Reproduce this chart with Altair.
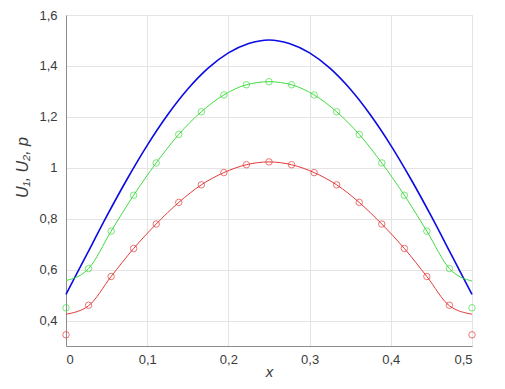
import altair as alt
import pandas as pd

# x positions of the blue (p) curve samples
x_p = [0, 0.025, 0.05, 0.075, 0.1, 0.125, 0.15, 0.175, 0.2, 0.225, 0.25,
       0.275, 0.3, 0.325, 0.35, 0.375, 0.4, 0.425, 0.45, 0.475, 0.5]
p_vals = [0.503, 0.656, 0.809, 0.954, 1.088, 1.207, 1.309, 1.391, 1.451, 1.488, 1.502,
          1.488, 1.451, 1.391, 1.309, 1.207, 1.088, 0.954, 0.809, 0.656, 0.503]

# x positions of the markers / U curves
x_u = [0, 0.0278, 0.0556, 0.0833, 0.1111, 0.1389, 0.1667, 0.1944, 0.2222, 0.25,
       0.2778, 0.3056, 0.3333, 0.3611, 0.3889, 0.4167, 0.4444, 0.4722, 0.5]
u2_line = [0.557, 0.604, 0.751, 0.892, 1.019, 1.131, 1.220, 1.286, 1.326, 1.338,
           1.326, 1.286, 1.220, 1.131, 1.019, 0.892, 0.751, 0.604, 0.555]
u2_pts = [0.450, 0.604, 0.751, 0.892, 1.019, 1.131, 1.220, 1.286, 1.326, 1.338,
          1.326, 1.286, 1.220, 1.131, 1.019, 0.892, 0.751, 0.604, 0.450]
u1_line = [0.425, 0.458, 0.573, 0.683, 0.779, 0.864, 0.933, 0.981, 1.012, 1.023,
           1.012, 0.981, 0.933, 0.864, 0.779, 0.683, 0.573, 0.458, 0.425]
u1_pts = [0.344, 0.460, 0.573, 0.683, 0.779, 0.864, 0.933, 0.981, 1.012, 1.023,
          1.012, 0.981, 0.933, 0.864, 0.779, 0.683, 0.573, 0.460, 0.344]

x_ticks = [0, 0.1, 0.2, 0.3, 0.4, 0.5]
y_ticks = [0.4, 0.6, 0.8, 1.0, 1.2, 1.4, 1.6]

BLUE = "#0b0be4"
GREEN = "#3fdc3f"
RED = "#e43a3a"
LABEL = "#3a3a3a"

df_p = pd.DataFrame({"x": x_p, "y": p_vals})
df_u = pd.DataFrame({"x": x_u, "u2l": u2_line, "u2p": u2_pts, "u1l": u1_line, "u1p": u1_pts})

label_expr = "replace(format(datum.value, '.1~f'), '.', ',')"

xs = alt.Scale(domain=[0, 0.5], nice=False, zero=False)
ys = alt.Scale(domain=[0.3, 1.6], nice=False, zero=False)

x_axis = alt.Axis(values=x_ticks, labelExpr=label_expr, title="x", titleFontStyle="italic",
                  titleFontWeight="normal", titleFontSize=15, titleColor=LABEL,
                  titleX=203, titleY=25, titleBaseline="middle", titleAlign="center",
                  labelFontSize=13, labelColor=LABEL, labelPadding=7, ticks=False,
                  domainColor="#8c8c8c", gridColor="#e4e4e4", labelFont="Liberation Sans",
                  titleFont="Liberation Sans")
y_axis = alt.Axis(values=y_ticks, labelExpr=label_expr, title="U₁, U₂, p",
                  titleFontStyle="italic", titleFontWeight="normal", titleFontSize=16,
                  titleColor=LABEL, titleX=-44, titleY=152, titleBaseline="middle",
                  titleAlign="center", labelFontSize=13, labelColor=LABEL, labelPadding=9,
                  ticks=False, domainColor="#8c8c8c", gridColor="#e4e4e4",
                  labelFont="Liberation Sans", titleFont="Liberation Sans")

base_p = alt.Chart(df_p)
base_u = alt.Chart(df_u)

blue = base_p.mark_line(color=BLUE, strokeWidth=1.6, interpolate="monotone").encode(
    x=alt.X("x:Q", scale=xs, axis=x_axis), y=alt.Y("y:Q", scale=ys, axis=y_axis))
green_l = base_u.mark_line(color=GREEN, strokeWidth=1, interpolate="monotone").encode(
    x=alt.X("x:Q", scale=xs), y=alt.Y("u2l:Q", scale=ys))
green_p = base_u.mark_point(color=GREEN, shape="circle", size=42, strokeWidth=1, filled=False).encode(
    x=alt.X("x:Q", scale=xs), y=alt.Y("u2p:Q", scale=ys))
red_l = base_u.mark_line(color=RED, strokeWidth=1, interpolate="monotone").encode(
    x=alt.X("x:Q", scale=xs), y=alt.Y("u1l:Q", scale=ys))
red_p = base_u.mark_point(color=RED, shape="circle", size=42, strokeWidth=1, filled=False).encode(
    x=alt.X("x:Q", scale=xs), y=alt.Y("u1p:Q", scale=ys))

chart = alt.layer(blue, green_l, red_l, green_p, red_p).properties(
    width=406, height=331, autosize="none",
    padding={"left": 58, "top": 7, "right": 25, "bottom": 40},
).configure_view(stroke="#8c8c8c", strokeWidth=1).configure(background="white")

chart.save("out.html", embed_options={"renderer": "svg", "actions": False})
